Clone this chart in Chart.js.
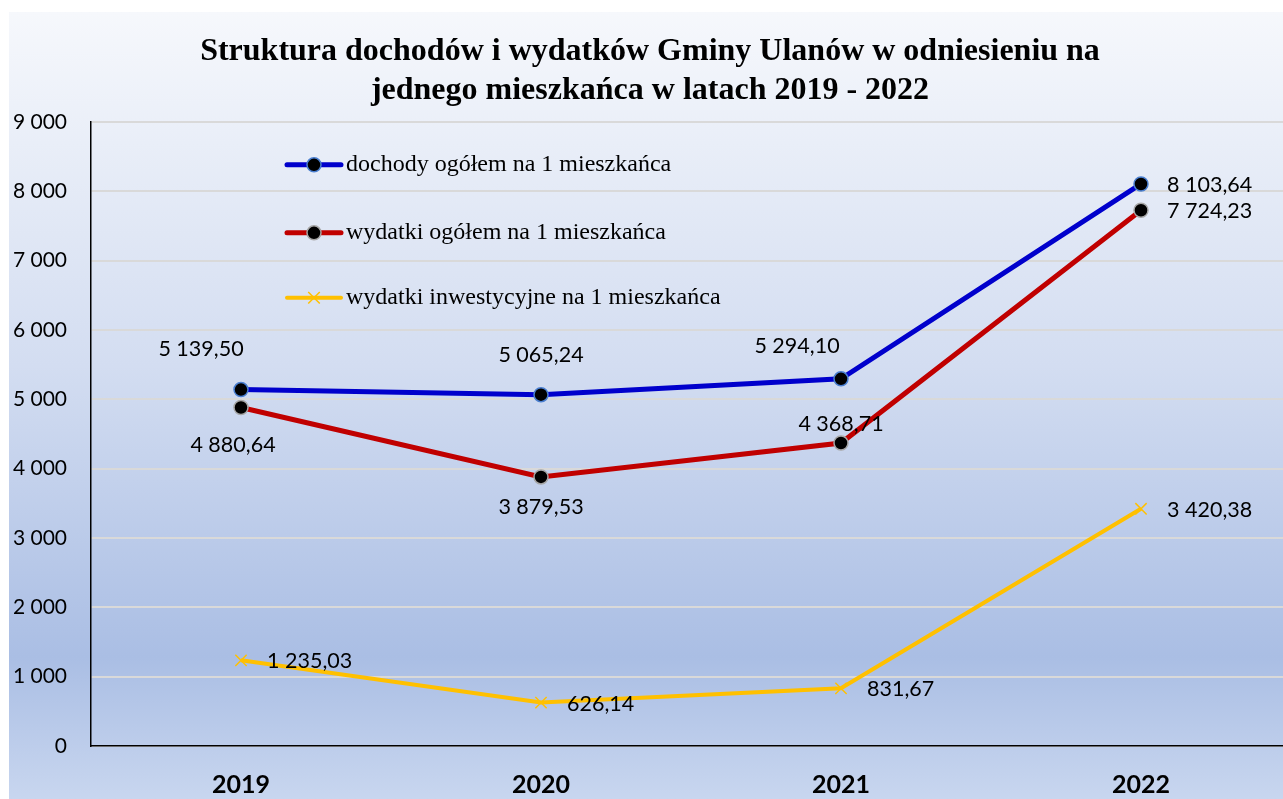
<!DOCTYPE html>
<html lang="pl">
<head>
<meta charset="utf-8">
<script src="https://cdn.jsdelivr.net/npm/chart.js@4.4.1/dist/chart.umd.min.js"></script>
<style>
  html, body { margin: 0; padding: 0; background: #fff; overflow: hidden; }
  #c { position: absolute; left: 9px; top: 12px; width: 1283px; height: 787px; }
</style>
</head>
<body>
<canvas id="c" width="1283" height="787"></canvas>
<script>
// Dane
const years = ['2019', '2020', '2021', '2022'];
const dochody = [5139.50, 5065.24, 5294.10, 8103.64];
const wydatki = [4880.64, 3879.53, 4368.71, 7724.23];
const inwestycje = [1235.03, 626.14, 831.67, 3420.38];
const yTicks = [0, 1000, 2000, 3000, 4000, 5000, 6000, 7000, 8000, 9000];

const seriesNames = [
  'dochody ogółem na 1 mieszkańca',
  'wydatki ogółem na 1 mieszkańca',
  'wydatki inwestycyjne na 1 mieszkańca',
];

// gdzie stoi etykieta względem punktu
const labelPlacement = [
  ['aboveLeft', 'above', 'aboveLeft2', 'right'],
  ['belowLeft', 'below', 'aboveNear', 'right'],
  ['right', 'right', 'right', 'right'],
];
const placeOffset = {
  right:      { dx: 26,  dy: 1,   align: 'left' },
  above:      { dx: 0,   dy: -40, align: 'center' },
  aboveLeft:  { dx: -40, dy: -40, align: 'center' },
  aboveLeft2: { dx: -44, dy: -33, align: 'center' },
  below:      { dx: 0,   dy: 30,  align: 'center' },
  belowLeft:  { dx: -8,  dy: 38,  align: 'center' },
  aboveNear:  { dx: 0,   dy: -19, align: 'center' },
};

const fmt = (v, dec) => {
  const s = v.toFixed(dec).split('.');
  const int = s[0].replace(/\B(?=(\d{3})+(?!\d))/g, ' ');
  return dec ? int + ',' + s[1] : int;
};

const bgPlugin = {
  id: 'bg',
  beforeDraw(chart) {
    const { ctx, width, height } = chart;
    const g = ctx.createLinearGradient(0, 0, 0, height);
    g.addColorStop(0, '#f6f8fc');
    g.addColorStop(0.45, '#d3ddf1');
    g.addColorStop(0.82, '#aabee4');
    g.addColorStop(1, '#c8d6ef');
    ctx.save();
    ctx.fillStyle = g;
    ctx.fillRect(0, 0, width, height);
    ctx.restore();
  },
};

function marker(ctx, type, x, y, ds) {
  ctx.save();
  if (type === 'crossRot') {
    const r = 8;
    ctx.strokeStyle = ds.pointBorderColor;
    ctx.lineWidth = 1.5;
    ctx.beginPath();
    ctx.moveTo(x - r * 0.72, y - r * 0.72); ctx.lineTo(x + r * 0.72, y + r * 0.72);
    ctx.moveTo(x + r * 0.72, y - r * 0.72); ctx.lineTo(x - r * 0.72, y + r * 0.72);
    ctx.stroke();
  } else {
    ctx.fillStyle = ds.pointBackgroundColor;
    ctx.strokeStyle = ds.pointBorderColor;
    ctx.lineWidth = ds.pointBorderWidth;
    ctx.beginPath();
    ctx.arc(x, y, ds.pointRadius, 0, Math.PI * 2);
    ctx.fill();
    ctx.stroke();
  }
  ctx.restore();
}

const legendPlugin = {
  id: 'innerLegend',
  afterDatasetsDraw(chart) {
    const { ctx, chartArea } = chart;
    const x0 = chartArea.left + 196;
    const rows = [43, 111, 176];
    chart.data.datasets.forEach((ds, i) => {
      const y = chartArea.top + rows[i];
      ctx.save();
      ctx.strokeStyle = ds.borderColor;
      ctx.lineWidth = ds.borderWidth;
      ctx.lineCap = 'round';
      ctx.beginPath();
      ctx.moveTo(x0, y); ctx.lineTo(x0 + 54, y);
      ctx.stroke();
      ctx.restore();
      marker(ctx, ds.pointStyle, x0 + 27, y, ds);
      ctx.save();
      ctx.fillStyle = '#000';
      ctx.font = '24px "Liberation Serif", "Times New Roman", serif';
      ctx.textBaseline = 'middle';
      ctx.fillText(ds.label, x0 + 59, y);
      ctx.restore();
    });
  },
};

const labelsPlugin = {
  id: 'valueLabels',
  afterDatasetsDraw(chart) {
    const { ctx } = chart;
    ctx.save();
    ctx.fillStyle = '#000';
    ctx.font = '21.5px Lato, "Open Sans", sans-serif';
    ctx.textBaseline = 'middle';
    chart.data.datasets.forEach((ds, i) => {
      chart.getDatasetMeta(i).data.forEach((pt, j) => {
        const o = placeOffset[labelPlacement[i][j]];
        ctx.textAlign = o.align;
        ctx.fillText(fmt(ds.data[j], 2), pt.x + o.dx, pt.y + o.dy);
      });
    });
    ctx.restore();
  },
};

new Chart(document.getElementById('c'), {
  type: 'line',
  data: {
    labels: years,
    datasets: [
      {
        label: seriesNames[0], data: dochody,
        borderColor: '#0000cc', borderWidth: 5,
        pointStyle: 'circle', pointRadius: 7, pointBackgroundColor: '#000',
        pointBorderColor: '#4a7fd0', pointBorderWidth: 1.5,
      },
      {
        label: seriesNames[1], data: wydatki,
        borderColor: '#c00000', borderWidth: 5,
        pointStyle: 'circle', pointRadius: 7, pointBackgroundColor: '#000',
        pointBorderColor: '#a6a6a6', pointBorderWidth: 1.5,
      },
      {
        label: seriesNames[2], data: inwestycje,
        borderColor: '#ffc000', borderWidth: 4,
        pointStyle: 'crossRot', pointRadius: 8, pointBackgroundColor: '#ffc000',
        pointBorderColor: '#ffc000', pointBorderWidth: 1.5,
      },
    ],
  },
  options: {
    responsive: false, animation: false,
    layout: { autoPadding: false, padding: { left: 0, right: 1, top: 0, bottom: 0 } },
    plugins: {
      legend: { display: false },
      tooltip: { enabled: false },
      title: {
        display: true,
        text: ['Struktura dochodów i wydatków Gminy Ulanów w odniesieniu na',
               'jednego mieszkańca w latach 2019 - 2022'],
        color: '#000',
        font: { family: '"Liberation Serif", "Times New Roman", serif', size: 32, weight: 'bold', lineHeight: 1.2 },
        padding: { top: 21, bottom: 12 },
      },
    },
    scales: {
      x: {
        offset: true,
        grid: { display: false, drawTicks: false },
        border: { color: '#000', width: 1.5 },
        ticks: { color: '#000', padding: 24, font: { family: 'Lato, "Open Sans", sans-serif', size: 25, weight: 'bold' } },
        afterFit: s => { s.height = 53; },
      },
      y: {
        min: 0, max: 9000,
        afterBuildTicks: s => { s.ticks = yTicks.map(v => ({ value: v })); },
        grid: { color: '#d9d9d9', lineWidth: 2, drawTicks: false },
        border: { color: '#000', width: 1.5 },
        ticks: { color: '#000', padding: 24, font: { family: 'Lato, "Open Sans", sans-serif', size: 21 }, callback: v => fmt(v, 0) },
        afterFit: s => { s.width = 82; },
      },
    },
  },
  plugins: [bgPlugin, legendPlugin, labelsPlugin],
});
</script>
</body>
</html>
